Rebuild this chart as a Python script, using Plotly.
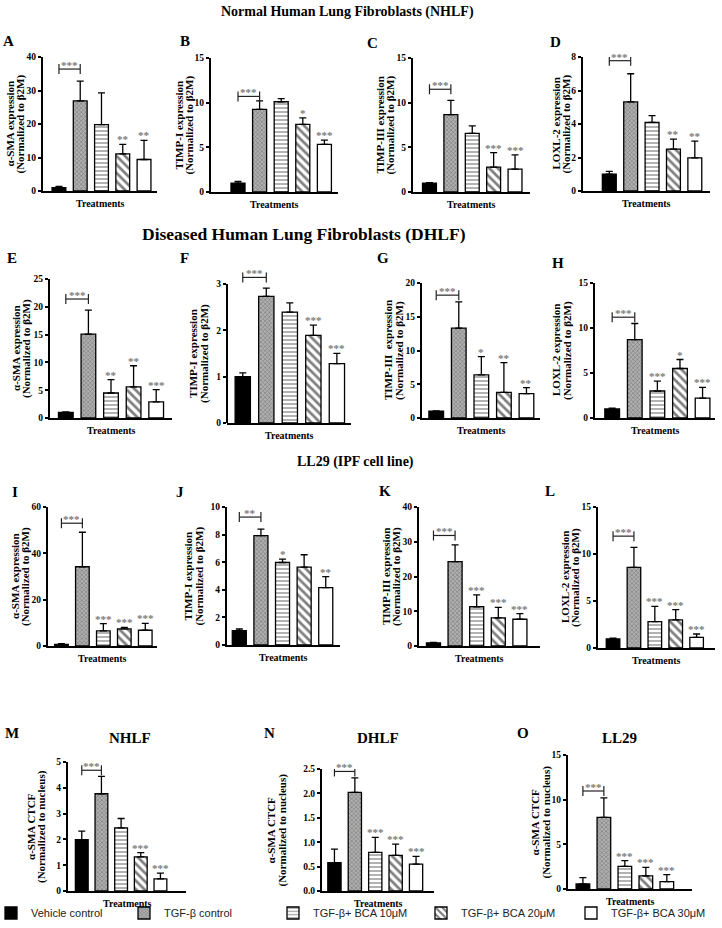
import plotly.graph_objects as go

W, H = 722, 928
SERIF = "Liberation Serif"
SANS = "Liberation Sans"

# ---------------- data ----------------
treatments = ["Vehicle control", "TGF-β control", "TGF-β+ BCA 10μM",
              "TGF-β+ BCA 20μM", "TGF-β+ BCA 30μM"]

panel_letters = ["A", "B", "C", "D", "E", "F", "G", "H", "I", "J", "K", "L", "M", "N", "O"]

y_titles = [
    "α-SMA expression", "TIMP-I expression", "TIMP-III expression", "LOXL-2 expression",
    "α-SMA expression", "TIMP-I expression", "TIMP-III  expression", "LOXL-2 expression",
    "α-SMA expression", "TIMP-I expression", "TIMP-III expression", "LOXL-2 expression",
    "α-SMA CTCF", "α-SMA CTCF", "α-SMA CTCF",
]
y_subtitles = ["(Normalized to β2M)"] * 12 + ["(Normalized to nucleus)"] * 3
x_title = "Treatments"

section_titles = ["Normal Human Lung Fibroblasts (NHLF)",
                  "Diseased Human Lung Fibroblasts (DHLF)",
                  "LL29 (IPF cell line)"]
bottom_titles = ["NHLF", "DHLF", "LL29"]

mean_A = [1.0, 26.9, 19.8, 11.1, 9.4]
err_A = [0.4, 5.9, 9.5, 2.8, 5.7]
stars_A = ["", "", "", "**", "**"]

mean_B = [1.0, 9.26, 10.1, 7.57, 5.32]
err_B = [0.2, 0.94, 0.36, 0.73, 0.48]
stars_B = ["", "", "", "*", "***"]

mean_C = [1.0, 8.67, 6.56, 2.78, 2.56]
err_C = [0.06, 1.59, 0.84, 1.62, 1.59]
stars_C = ["", "", "", "***", "***"]

mean_D = [1.0, 5.32, 4.1, 2.5, 1.98]
err_D = [0.17, 1.68, 0.4, 0.6, 1.0]
stars_D = ["", "", "", "**", "**"]

mean_E = [1.0, 15.1, 4.5, 5.6, 2.9]
err_E = [0.1, 4.3, 2.4, 3.8, 2.2]
stars_E = ["", "", "**", "**", "***"]

mean_F = [1.0, 2.73, 2.39, 1.89, 1.28]
err_F = [0.08, 0.18, 0.2, 0.22, 0.22]
stars_F = ["", "", "", "***", "***"]

mean_G = [1.0, 13.3, 6.4, 3.8, 3.6]
err_G = [0.05, 3.9, 2.7, 4.4, 0.9]
stars_G = ["", "", "*", "**", "**"]

mean_H = [1.0, 8.7, 3.0, 5.5, 2.2]
err_H = [0.1, 1.8, 1.1, 1.0, 1.2]
stars_H = ["", "", "***", "*", "***"]

mean_I = [0.7, 34.2, 6.5, 7.4, 6.8]
err_I = [0.3, 14.9, 3.2, 0.6, 3.0]
stars_I = ["", "", "***", "***", "***"]

mean_J = [1.04, 7.92, 5.98, 5.64, 4.16]
err_J = [0.12, 0.48, 0.24, 0.9, 0.8]
stars_J = ["", "", "*", "", "**"]

mean_K = [0.9, 24.3, 11.3, 8.1, 7.7]
err_K = [0.15, 4.8, 3.4, 3.0, 1.6]
stars_K = ["", "", "***", "***", "***"]

mean_L = [0.96, 8.58, 2.8, 3.0, 1.13]
err_L = [0.1, 2.12, 1.63, 1.08, 0.36]
stars_L = ["", "", "***", "***", "***"]

mean_M = [1.99, 3.77, 2.45, 1.32, 0.47]
err_M = [0.33, 0.67, 0.36, 0.17, 0.22]
stars_M = ["", "", "", "***", "***"]

mean_N = [0.58, 2.02, 0.79, 0.73, 0.55]
err_N = [0.28, 0.3, 0.31, 0.23, 0.16]
stars_N = ["", "", "***", "***", "***"]

mean_O = [0.56, 8.02, 2.54, 1.46, 0.82]
err_O = [0.71, 2.18, 0.63, 0.97, 0.78]
stars_O = ["", "", "***", "***", "***"]

# bracket (vehicle vs TGF-β control) height and label per panel
bracket_level = [36.4, 10.7, 11.5, 7.78, 21.4, 3.14, 18.2, 11.2, 53.0, 9.27, 31.8, 11.9, 4.68, 2.45, 10.97]
bracket_label = ["***"] * 9 + ["**"] + ["***"] * 5

# y-axis: last labelled tick, tick step, and drawn range top
y_top_tick = [40, 15, 15, 8, 25, 3, 20, 15, 60, 10, 40, 15, 5, 2.5, 15]
y_step = [10, 5, 5, 2, 5, 1, 5, 5, 20, 2, 10, 5, 1, 0.5, 5]
y_range_top = [40, 15, 15, 8, 25, 3.3, 20, 15, 60, 10, 40, 15, 5, 2.5, 15]

means = [mean_A, mean_B, mean_C, mean_D, mean_E, mean_F, mean_G, mean_H,
         mean_I, mean_J, mean_K, mean_L, mean_M, mean_N, mean_O]
errs = [err_A, err_B, err_C, err_D, err_E, err_F, err_G, err_H,
        err_I, err_J, err_K, err_L, err_M, err_N, err_O]
stars = [stars_A, stars_B, stars_C, stars_D, stars_E, stars_F, stars_G, stars_H,
         stars_I, stars_J, stars_K, stars_L, stars_M, stars_N, stars_O]

# ---------------- layout geometry (pixels) ----------------
# (x_left, x_right, y_top_of_range, y_bottom, x_range_lo, x_range_hi)
geom = [
    (43, 157, 57, 191, -0.75, 4.61),
    (211, 338, 58, 192, -1.25, 4.63),
    (413, 530, 58, 192, -0.77, 4.70),
    (583, 710, 57, 191, -1.23, 4.71),
    (50, 172, 279, 418, -0.70, 4.70),
    (227, 351, 270, 423, -0.67, 4.60),
    (422, 540, 283, 418, -0.63, 4.60),
    (595, 715, 283, 418, -0.76, 4.55),
    (48, 157, 507, 646, -0.64, 4.56),
    (227, 340, 507, 645, -0.57, 4.66),
    (419, 540, 507, 646, -0.67, 4.93),
    (598, 715, 507, 648, -0.72, 4.88),
    (68, 186, 762, 891, -0.70, 5.30),
    (322, 434, 769, 891, -0.61, 4.88),
    (568, 692, 755, 889, -0.71, 5.20),
]
ytitle_x = [15, 184, 385, 561, 21, 199, 394, 562, 20, 193, 391, 570, 36, 276, 540]
letter_pos = [(8, 41), (185, 41), (372, 43), (555, 42),
              (12, 258), (184, 258), (383, 258), (558, 263),
              (15, 492), (180, 492), (385, 491), (550, 491),
              (12, 733), (269, 733), (523, 733)]
section_pos = [(347, 12), (304, 234), (355, 462)]
section_size = [14, 17.5, 14]
bottom_title_pos = [(130, 738), (378, 738), (619, 738)]
legend_x = [-9, 124, 273, 421, 571]
LEGEND_Y = 913

styles = [
    dict(color="black", pattern=dict(shape="")),
    dict(color="#8c8c8c", pattern=dict(shape="x", fgcolor="#3a3a3a", bgcolor="#b0b0b0", size=3, solidity=0.35)),
    dict(color="white", pattern=dict(shape="-", fgcolor="black", bgcolor="white", size=4, solidity=0.3)),
    dict(color="white", pattern=dict(shape="\\", fgcolor="black", bgcolor="white", size=6, solidity=0.45)),
    dict(color="white", pattern=dict(shape="")),
]

STAR_COLOR = "#7a7a7a"
legend_names = ["legend", "legend2", "legend3", "legend4", "legend5"]

fig = go.Figure()
annotations = []
shapes = []
layout_axes = {}


def paper_text(text, px, py, size, angle=0):
    return dict(x=px / W, y=1 - py / H, xref="paper", yref="paper", text=text,
                showarrow=False, xanchor="center", yanchor="middle", textangle=angle,
                font=dict(family=SERIF, size=size, color="black", weight="bold"))


for p in range(15):
    x0, x1, yt, yb, xlo, xhi = geom[p]
    k = "" if p == 0 else str(p + 1)
    xa, ya = "x" + k, "y" + k
    ytop = y_range_top[p]
    for i in range(5):
        st = styles[i]
        fig.add_trace(go.Bar(
            x=[i], y=[means[p][i]], width=0.65,
            name=treatments[i], legend=legend_names[i], showlegend=(p == 0),
            marker=dict(color=st["color"], pattern=st["pattern"],
                        line=dict(color="black", width=1.3)),
            error_y=dict(type="data", symmetric=False, array=[errs[p][i]], arrayminus=[0],
                         color="black", thickness=1.3, width=3.5),
            xaxis=xa, yaxis=ya,
        ))
        if stars[p][i]:
            annotations.append(dict(
                x=i, y=means[p][i] + errs[p][i], xref=xa, yref=ya,
                text=stars[p][i], showarrow=False, yanchor="bottom", yshift=-3,
                font=dict(family=SERIF, size=11, color=STAR_COLOR, weight="bold"),
            ))
    # bracket between vehicle and TGF-β control
    h = bracket_level[p]
    d = 5.0 * ytop / (yb - yt)
    fig.add_trace(go.Scatter(
        x=[0, 0, None, 0, 1, None, 1, 1],
        y=[h - d, h + d, None, h, h, None, h - d, h + d],
        mode="lines", line=dict(color="#222", width=1.2),
        showlegend=False, hoverinfo="skip", cliponaxis=False,
        xaxis=xa, yaxis=ya,
    ))
    annotations.append(dict(
        x=0.5, y=h, xref=xa, yref=ya, text=bracket_label[p], showarrow=False,
        yanchor="bottom", yshift=-4,
        font=dict(family=SERIF, size=11, color=STAR_COLOR, weight="bold"),
    ))

    axis_line_drawn = ytop == y_top_tick[p]
    layout_axes["xaxis" + k] = dict(
        domain=[x0 / W, x1 / W], anchor=ya, range=[xlo, xhi],
        showticklabels=False, ticks="", showgrid=False, zeroline=False,
        showline=True, linecolor="black", linewidth=2, fixedrange=True,
    )
    layout_axes["yaxis" + k] = dict(
        domain=[1 - yb / H, 1 - yt / H], anchor=xa, range=[0, ytop],
        dtick=y_step[p], tick0=0, tickformat=(".1f" if p == 13 else ""),
        ticks="outside", ticklen=3, tickwidth=1.5, tickcolor="black",
        showgrid=False, zeroline=False, showline=axis_line_drawn,
        linecolor="black", linewidth=2,
        tickfont=dict(family=SERIF, size=9.5, color="black", weight="bold"),
        fixedrange=True,
    )
    if not axis_line_drawn:
        # axis line ends at the last labelled tick
        shapes.append(dict(
            type="line", xref=xa + " domain", yref=ya + " domain",
            x0=0, x1=0, y0=0, y1=y_top_tick[p] / ytop,
            line=dict(color="black", width=2),
        ))

    # axis titles
    top_px = yb - (yb - yt) * y_top_tick[p] / ytop
    mid_y = (top_px + yb) / 2
    annotations.append(paper_text(y_titles[p], ytitle_x[p] - 5.5, mid_y, 11, -90))
    annotations.append(paper_text(y_subtitles[p], ytitle_x[p] + 5.5, mid_y, 11, -90))
    annotations.append(paper_text(x_title, (x0 + x1) / 2, yb + 12, 10))

    lx, ly = letter_pos[p]
    annotations.append(paper_text(panel_letters[p], lx, ly, 15))

for t, (sx, sy), fs in zip(section_titles, section_pos, section_size):
    annotations.append(paper_text(t, sx, sy, fs))
for t, (sx, sy) in zip(bottom_titles, bottom_title_pos):
    annotations.append(paper_text(t, sx, sy, 15))

legends = {}
for n, lx in zip(legend_names, legend_x):
    legends[n] = dict(
        x=lx / W, xanchor="left", y=1 - LEGEND_Y / H, yanchor="middle",
        orientation="h", font=dict(family=SANS, size=11, color="#222"),
        itemwidth=30, bgcolor="rgba(0,0,0,0)", borderwidth=0,
    )

fig.update_layout(
    width=W, height=H, margin=dict(l=0, r=0, t=0, b=0, autoexpand=False),
    paper_bgcolor="white", plot_bgcolor="white",
    barmode="overlay",
    annotations=annotations,
    shapes=shapes,
    **legends,
    **layout_axes,
)

# the page's default body margin would offset the 722x928 figure inside the window
fig.write_html("out.html", config={"displayModeBar": False},
               post_script="document.body.style.margin='0px';")
